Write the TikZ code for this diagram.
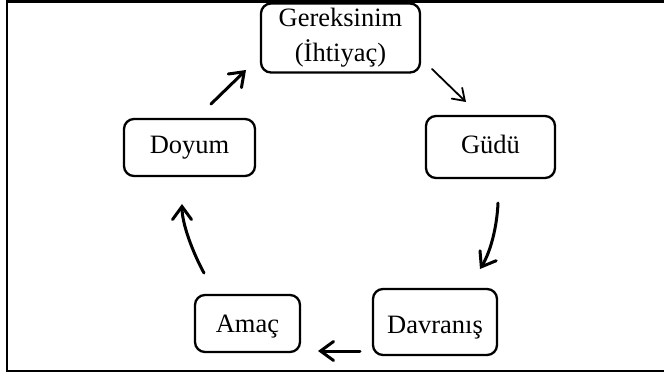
\documentclass[tikz,border=0pt]{standalone}
\usepackage{fontspec}
\setmainfont{Liberation Serif}
\usetikzlibrary{arrows.meta}
\begin{document}
\begin{tikzpicture}[x=1pt,y=-1pt,
  stage/.style={draw, line width=2.3pt, rounded corners=10pt, align=center,
    inner sep=0pt, font=\fontsize{26.5}{35}\selectfont},
  flow/.style={line width=3pt, line cap=round,
    -{Straight Barb[length=13pt,width=19pt,line cap=round]}},
  thinflow/.style={line width=1.8pt, line cap=round,
    -{Straight Barb[length=11pt,width=15pt,line cap=round]}}]
  \useasboundingbox (0,0) rectangle (664,374);
  % frame (open on the right)
  \draw[line width=2.2pt] (664,1.5) -- (7,1.5) -- (7,371) -- (664,371);

  % stages of the cycle
  \node[stage, minimum width=159pt, minimum height=69pt] (need) at (340.5,38) {Gereksinim\\(İhtiyaç)};
  \node[stage, minimum width=129pt, minimum height=62pt, text height=19pt, text depth=6pt] (motive) at (490.5,147) {Güdü};
  \node[stage, minimum width=124pt, minimum height=66pt, text height=26pt, text depth=4pt] (behav) at (435,322) {Davranış};
  \node[stage, minimum width=105pt, minimum height=57pt, text height=21pt, text depth=4pt] (goal) at (247.5,323.5) {Amaç};
  \node[stage, minimum width=131pt, minimum height=57pt, text height=19pt, text depth=6pt] (sat) at (189.5,147.5) {Doyum};

  % arrow end points
  \coordinate (a1s) at (432,69);
  \coordinate (a1e) at (466,102);
  \coordinate (a2s) at (498,203);
  \coordinate (a2e) at (480,269);
  \coordinate (a3s) at (360,351);
  \coordinate (a3e) at (318,351);
  \coordinate (a4s) at (204,273);
  \coordinate (a4e) at (182,204);
  \coordinate (a5s) at (211,104);
  \coordinate (a5e) at (246,70);

  \draw[thinflow] (a1s) -- (a1e);
  \draw[flow] (a2s) .. controls (497,226) and (491,251) .. (a2e);
  \draw[flow] (a3s) -- (a3e);
  \draw[flow] (a4s) .. controls (193,253) and (182,224) .. (a4e);
  \draw[flow] (a5s) -- (a5e);
\end{tikzpicture}
\end{document}
